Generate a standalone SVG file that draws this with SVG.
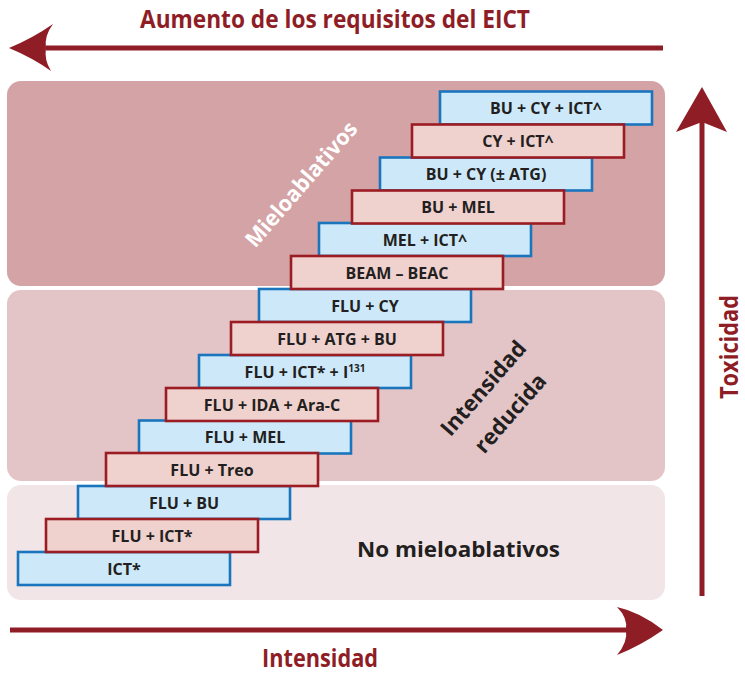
<svg xmlns="http://www.w3.org/2000/svg" width="745" height="674" viewBox="0 0 745 674">
<style>
.lbl{font-family:"Open Sans","Liberation Sans",sans-serif;font-weight:700;font-size:16px;fill:#231f20;text-anchor:middle}
.bx{fill:#cde9f9;stroke:#1b75bc;stroke-width:2.6}
.rx{fill:#efd1ce;stroke:#9b1c23;stroke-width:2.6}
.axis{font-family:"Open Sans","Liberation Sans",sans-serif;font-weight:700;font-size:25px;fill:#8f1d25;text-anchor:middle}
.zone{font-family:"Open Sans","Liberation Sans",sans-serif;font-weight:700;font-size:22px;text-anchor:middle}
.arr{stroke:#8f1d25;stroke-width:5;fill:none}
.head{fill:#8f1d25}
</style>
<g id="panels">
<rect x="7" y="81" width="658" height="205" rx="14" fill="#d4a3a6"/>
<rect x="7" y="290" width="658" height="191" rx="14" fill="#e4c5c7"/>
<rect x="7" y="485" width="658" height="115" rx="14" fill="#f2e5e7"/>
</g>
<g id="zone-labels">
<text class="zone" fill="#ffffff" transform="translate(301,184) rotate(-49)" y="8" textLength="158" lengthAdjust="spacingAndGlyphs">Mieloablativos</text>
<text class="zone" fill="#231f20" font-size="24" transform="translate(483,388) rotate(-49)" y="8">Intensidad</text>
<text class="zone" fill="#231f20" font-size="24" transform="translate(510,413) rotate(-49)" y="8">reducida</text>
<text class="zone" fill="#231f20" font-size="23" x="458.5" y="557" textLength="203" lengthAdjust="spacingAndGlyphs">No mieloablativos</text>
</g>
<g id="connectors">
<line class="arr" x1="46" y1="48" x2="663" y2="48"/>
<path class="head" d="M9,48 Q33,38 53,24 Q44,36 46,48 Q44,60 51,71 Q33,58 9,48 Z"/>
<line class="arr" x1="10" y1="630" x2="627" y2="630"/>
<path class="head" d="M663,630 Q640,612 617,607 Q628,618 626,630 Q628,642 617,655 Q640,646 663,630 Z"/>
<line class="arr" x1="702" y1="596" x2="702" y2="122"/>
<path class="head" d="M702,87 L727,132 L702,122 L676,132 Z"/>
</g>
<g id="axis-labels">
<text class="axis" x="335" y="28" textLength="390" lengthAdjust="spacingAndGlyphs">Aumento de los requisitos del EICT</text>
<text class="axis" x="320" y="667" textLength="116" lengthAdjust="spacingAndGlyphs">Intensidad</text>
<text class="axis" transform="translate(738,347) rotate(-90)" textLength="104" lengthAdjust="spacingAndGlyphs">Toxicidad</text>
</g>
<g id="blue-steps">
<g id="n-ict"><rect class="bx" x="18" y="552" width="212" height="33"/><text class="lbl" x="124" y="574.5">ICT*</text></g>
<g id="n-flu-bu"><rect class="bx" x="78" y="486" width="212" height="33"/><text class="lbl" x="184" y="508.5">FLU + BU</text></g>
<g id="n-flu-mel"><rect class="bx" x="139" y="420.5" width="212" height="33"/><text class="lbl" x="245" y="443">FLU + MEL</text></g>
<g id="n-flu-ict-i131"><rect class="bx" x="199" y="355" width="212" height="33"/><text class="lbl" x="305" y="377.5">FLU + ICT* + I<tspan font-size="10" dy="-6">131</tspan></text></g>
<g id="n-flu-cy"><rect class="bx" x="259" y="289" width="212" height="33"/><text class="lbl" x="365" y="311.5">FLU + CY</text></g>
<g id="n-mel-ict"><rect class="bx" x="319" y="223" width="212" height="33"/><text class="lbl" x="425" y="245.5">MEL + ICT^</text></g>
<g id="n-bu-cy-atg"><rect class="bx" x="380" y="157.5" width="212" height="33"/><text class="lbl" x="486" y="180">BU + CY (± ATG)</text></g>
<g id="n-bu-cy-ict"><rect class="bx" x="440" y="91.5" width="212" height="33"/><text class="lbl" x="546" y="114">BU + CY + ICT^</text></g>
</g>
<g id="red-steps">
<g id="n-flu-ict"><rect class="rx" x="46" y="519" width="212" height="33"/><text class="lbl" x="152" y="541.5">FLU + ICT*</text></g>
<g id="n-flu-treo"><rect class="rx" x="106" y="453" width="212" height="33"/><text class="lbl" x="212" y="475.5">FLU + Treo</text></g>
<g id="n-flu-ida-arac"><rect class="rx" x="166" y="388" width="212" height="33"/><text class="lbl" x="272" y="410.5">FLU + IDA + Ara-C</text></g>
<g id="n-flu-atg-bu"><rect class="rx" x="231" y="322" width="212" height="33"/><text class="lbl" x="337" y="344.5">FLU + ATG + BU</text></g>
<g id="n-beam-beac"><rect class="rx" x="291" y="256" width="212" height="33"/><text class="lbl" x="397" y="278.5">BEAM – BEAC</text></g>
<g id="n-bu-mel"><rect class="rx" x="352" y="190.5" width="212" height="33"/><text class="lbl" x="458" y="213">BU + MEL</text></g>
<g id="n-cy-ict"><rect class="rx" x="412" y="124.5" width="212" height="33"/><text class="lbl" x="518" y="147">CY + ICT^</text></g>
</g>
</svg>
